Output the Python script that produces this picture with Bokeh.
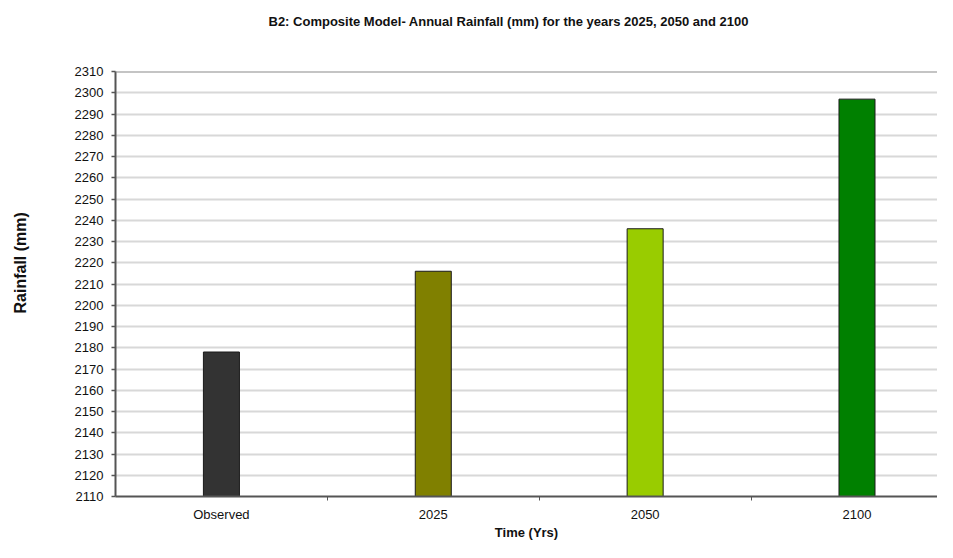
from bokeh.plotting import figure
from bokeh.models import ColumnDataSource, FixedTicker, Range1d, Span, Title, LinearAxis
from bokeh.embed import file_html
from bokeh.resources import INLINE

# ---- data ----
categories = ["Observed", "2025", "2050", "2100"]
rainfall = [2178, 2216, 2236, 2297]
bar_colors = ["#333333", "#808000", "#99cc00", "#008000"]
y_ticks = list(range(2110, 2311, 10))
title_text = "B2: Composite Model- Annual Rainfall (mm) for the years 2025, 2050 and 2100"
y_label = "Rainfall (mm)"
x_label = "Time (Yrs)"

x_pos = [i + 0.5 for i in range(len(categories))]
src = ColumnDataSource(dict(x=x_pos, top=rainfall, color=bar_colors, cat=categories))

FONT = "Liberation Sans"

p = figure(width=937, height=542, output_backend="svg", toolbar_location=None,
           x_range=Range1d(0, 3.88), y_range=Range1d(y_ticks[0], y_ticks[-1]),
           min_border_left=115, min_border_right=0, min_border_top=71, min_border_bottom=0,
           background_fill_color="white", border_fill_color="white")
p.outline_line_color = None

xa = p.below[0]
ya = p.left[0]

p.vbar(x="x", top="top", bottom=y_ticks[0], width=0.17, fill_color="color",
       line_color="#1a1a1a", line_width=1, source=src)


def spacer(size, at):
    """An invisible axis used only to reserve blank space in a side panel."""
    return LinearAxis(ticker=FixedTicker(ticks=[at], minor_ticks=[]), axis_line_color=None,
                      major_tick_out=size, major_tick_in=0, minor_tick_out=0, minor_tick_in=0,
                      major_tick_line_color=None, minor_tick_line_color=None,
                      major_label_text_color=None, major_label_text_font_size="1px",
                      major_label_standoff=0)


# title (above, with blank space between it and the frame)
p.add_layout(spacer(28, x_pos[0]), "above")
p.add_layout(Title(text=title_text, text_font=FONT, text_font_size="13px",
                   text_font_style="bold", text_color="#111111",
                   align="left", offset=153, vertical_align="top", standoff=26), "above")

# y label as a side title (so it can sit off-centre like the original)
p.add_layout(spacer(30, y_ticks[0]), "left")
p.add_layout(Title(text=y_label, text_font=FONT, text_font_size="16px",
                   text_font_style="bold", text_color="#111111",
                   align="left", offset=183, vertical_align="top", standoff=22), "left")

# y axis
ya.ticker = FixedTicker(ticks=y_ticks, minor_ticks=[])
ya.major_label_text_font = FONT
ya.major_label_text_font_size = "13px"
ya.major_label_text_color = "#111111"
ya.major_label_standoff = 8
ya.major_tick_out = 4
ya.major_tick_in = 0
ya.axis_line_color = "#555555"
ya.axis_line_width = 2
ya.major_tick_line_color = "#555555"
ya.major_tick_line_width = 1.5

# x axis
xa.ticker = FixedTicker(ticks=x_pos, minor_ticks=[1, 2, 3])
xa.major_label_overrides = dict(zip(x_pos, categories))
xa.axis_label = x_label
xa.axis_label_text_font = FONT
xa.axis_label_text_font_size = "13px"
xa.axis_label_text_font_style = "bold"
xa.axis_label_text_color = "#111111"
xa.axis_label_standoff = 0
xa.major_label_text_font = FONT
xa.major_label_text_font_size = "13px"
xa.major_label_text_color = "#111111"
xa.major_label_standoff = 6
xa.major_tick_out = 0
xa.major_tick_in = 0
xa.minor_tick_out = 4
xa.minor_tick_in = 0
xa.minor_tick_line_color = "#555555"
xa.axis_line_color = "#555555"
xa.axis_line_width = 2

# grid
p.xgrid.grid_line_color = None
p.ygrid.ticker = FixedTicker(ticks=y_ticks)
p.ygrid.grid_line_color = "#d8d8d8"
p.ygrid.grid_line_width = 2

p.add_layout(Span(location=y_ticks[-1], dimension="width", line_color="#8a8a8a", line_width=2))

open("out.html", "w").write(file_html(p, INLINE))
